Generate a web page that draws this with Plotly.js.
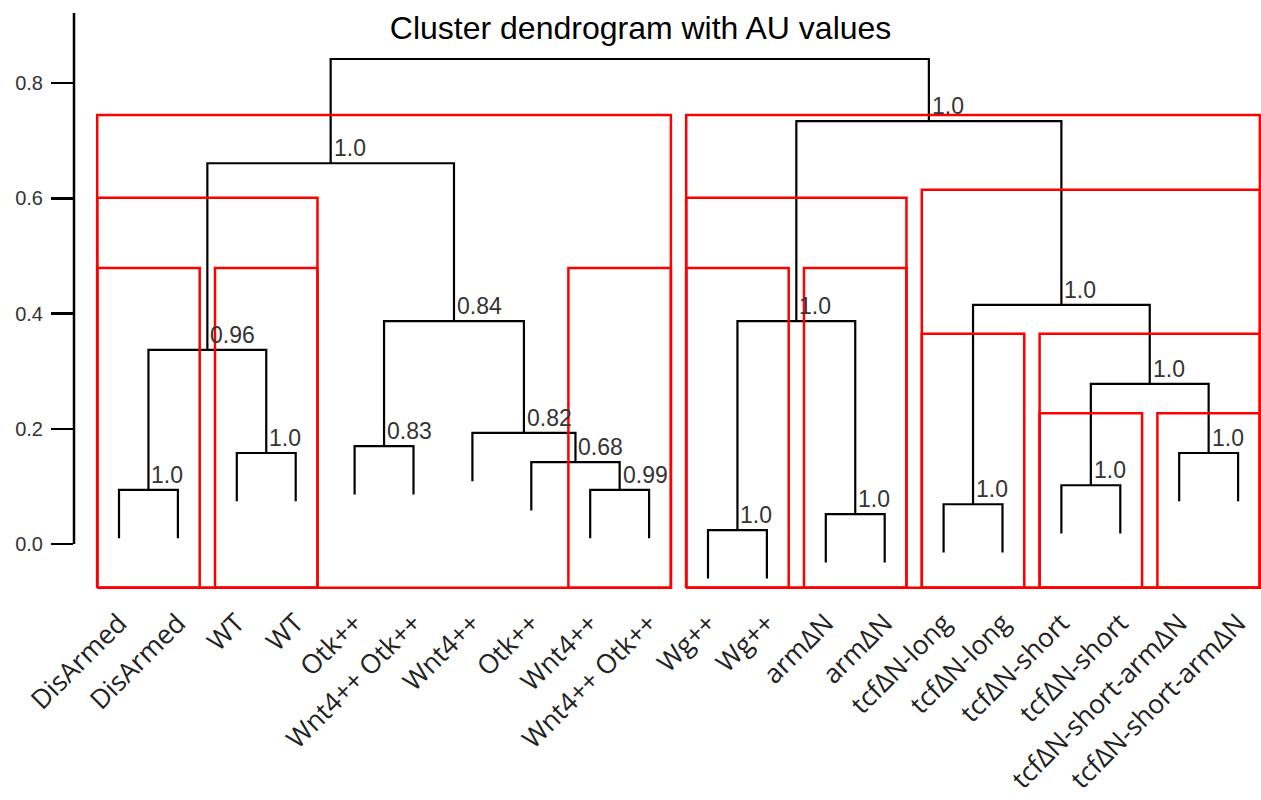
<!DOCTYPE html>
<html>
<head>
<meta charset="utf-8">
<script src="https://cdn.plot.ly/plotly-3.0.1.min.js"></script>
<style>html,body{margin:0;padding:0;background:#fff;}#chart{width:1261px;height:800px;}</style>
</head>
<body>
<div id="chart"></div>
<script>
// Leaf labels in plotting order
var leafLabels = ["DisArmed","DisArmed","WT","WT","Otk++","Wnt4++ Otk++","Wnt4++","Otk++","Wnt4++","Wnt4++ Otk++",
                  "Wg++","Wg++","arm\u0394N","arm\u0394N","tcf\u0394N-long","tcf\u0394N-long","tcf\u0394N-short","tcf\u0394N-short",
                  "tcf\u0394N-short-arm\u0394N","tcf\u0394N-short-arm\u0394N"];
// Merge matrix (negative = leaf index, positive = earlier merge)
var mergeLeft   = [-1,-3, 1,-5,-9,-8,-7, 4, 3,-11,-13,10,-15,-17,-19,14,13,12, 9];
var mergeRight  = [-2,-4, 2,-6,-10, 5, 6, 7, 8,-12,-14,11,-16,-18,-20,15,16,17,18];
var mergeHeight = [0.094,0.158,0.337,0.170,0.094,0.142,0.193,0.387,0.661,0.024,0.052,0.387,0.069,0.102,0.158,0.278,0.415,0.734,0.842];
var auValues    = ["1.0","1.0","0.96","0.83","0.99","0.68","0.82","0.84","1.0","1.0","1.0","1.0","1.0","1.0","1.0","1.0","1.0","1.0",""];
var hangValue = 0.084;
// Highlighted clusters (red rectangles): first leaf, last leaf, top height
var boxFirst = [1, 11, 1, 11, 15, 1, 3, 9, 11, 13, 15, 17, 17, 19];
var boxLast  = [10,20, 4, 14, 20, 2, 4, 10,12, 14, 16, 20, 18, 20];
var boxTop   = [0.745,0.745,0.601,0.601,0.615,0.479,0.479,0.479,0.479,0.479,0.365,0.365,0.227,0.227];
var boxBottom = -0.076;
var yTicks = [0, 0.2, 0.4, 0.6, 0.8];
var yTickText = ["0.0","0.2","0.4","0.6","0.8"];

var nodeX = [];
function childX(c){ return c < 0 ? -c : nodeX[c-1]; }
function childY(c, parentH){ return c < 0 ? parentH - hangValue : mergeHeight[c-1]; }
var lx = [], ly = [];
for (var i = 0; i < mergeHeight.length; i++) {
  var a = mergeLeft[i], b = mergeRight[i], h = mergeHeight[i];
  var xa = childX(a), xb = childX(b);
  nodeX.push((xa + xb) / 2);
  lx.push(xa, xa, xb, xb, null);
  ly.push(childY(a, h), h, h, childY(b, h), null);
}
var bx = [], by = [];
var pad = 0.37;
for (var k = 0; k < boxFirst.length; k++) {
  var x0 = boxFirst[k] - pad, x1 = boxLast[k] + pad;
  bx.push(x0, x0, x1, x1, x0, null);
  by.push(boxBottom, boxTop[k], boxTop[k], boxBottom, boxBottom, null);
}
var traces = [
  {x: lx, y: ly, mode: 'lines', line: {color: '#000', width: 2.2}, hoverinfo: 'skip', showlegend: false, cliponaxis: false},
  {x: bx, y: by, mode: 'lines', line: {color: '#ff0000', width: 2.5}, hoverinfo: 'skip', showlegend: false, cliponaxis: false}
];
var ann = [];
for (var j = 0; j < auValues.length; j++) {
  if (!auValues[j]) continue;
  ann.push({x: nodeX[j], y: mergeHeight[j], xref: 'x', yref: 'y', text: auValues[j], showarrow: false,
            xanchor: 'left', yanchor: 'bottom', xshift: 1, yshift: 0,
            font: {family: 'Liberation Sans, Arial, sans-serif', size: 23, color: '#333'}});
}
var tickv = leafLabels.map(function(_, i){ return i + 1; });
var layout = {
  width: 1261, height: 800,
  margin: {l: 74, r: 0, t: 13, b: 210, pad: 0},
  paper_bgcolor: '#fff', plot_bgcolor: '#fff',
  title: {text: 'Cluster dendrogram with AU values', x: 0.508, xref: 'container', xanchor: 'center',
          y: 1 - 28/800, yref: 'container', yanchor: 'middle',
          font: {family: 'Liberation Sans, Arial, sans-serif', size: 32, color: '#000'}},
  xaxis: {range: [0.236, 20.389], tickvals: tickv, ticktext: leafLabels, tickangle: -45,
          showgrid: false, zeroline: false, showline: false, ticks: 'outside', ticklen: 6, tickcolor: 'rgba(0,0,0,0)',
          tickfont: {family: 'Open Sans, sans-serif', size: 26.5, color: '#222'}},
  yaxis: {range: [-0.0799, 0.9219], tickvals: yTicks, ticktext: yTickText,
          showgrid: false, zeroline: false, showline: false, ticks: 'outside', ticklen: 22, tickwidth: 2.5, tickcolor: '#000',
          ticklabelstandoff: 4,
          tickfont: {family: 'Liberation Sans, Arial, sans-serif', size: 20, color: '#333'}},
  shapes: [{type: 'line', xref: 'paper', yref: 'y', x0: 0, x1: 0, y0: 0, y1: 0.9219, line: {color: '#000', width: 2.5}}],
  annotations: ann
};
Plotly.newPlot('chart', traces, layout, {displayModeBar: false, staticPlot: true});
</script>
</body>
</html>
